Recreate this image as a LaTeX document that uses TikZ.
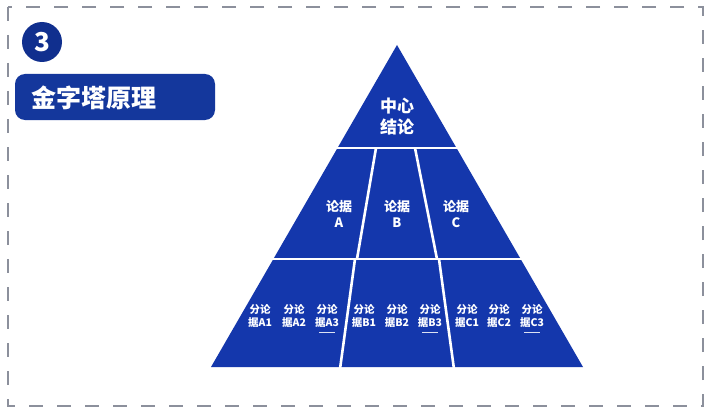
\documentclass[tikz,border=0pt]{standalone}
\usepackage{fontspec}
\newfontfamily\cjk{Noto Sans CJK SC}
\setmainfont{Noto Sans CJK SC}
\definecolor{pyblue}{HTML}{1437AC}
\definecolor{hdblue}{HTML}{14379C}
\definecolor{numblue}{HTML}{102F8E}
\definecolor{dashgray}{HTML}{8C909C}
\begin{document}
\begin{tikzpicture}[x=1pt,y=-1pt,
  sep/.style={white,line width=2.6pt},
  lbl/.style={text=white,align=center,inner sep=0pt,font=\cjk\bfseries},
  small/.style={lbl,font=\cjk\bfseries\fontsize{10.5}{13}\selectfont},
  mid/.style={lbl,font=\cjk\bfseries\fontsize{13}{16}\selectfont},
  ul/.style={white!85!pyblue,line width=1.1pt}]
\useasboundingbox (0,0) rectangle (710,412);
\fill[white] (0,0) rectangle (710,412);
% dashed border
\draw[dashgray,line width=1.8pt,dash pattern=on 14pt off 14pt] (8,7) rectangle (703,406);
% header
\node[circle,fill=numblue,minimum size=40pt,inner sep=0pt,text=white,font=\cjk\bfseries\fontsize{26}{26}\selectfont] (num) at (42,42) {3};
\node[fill=hdblue,rounded corners=10pt,minimum width=200pt,minimum height=46pt,inner sep=0pt] (title) at (115,97) {};
\node[lbl,font=\cjk\bfseries\fontsize{25}{25}\selectfont,anchor=west] (titletext) at (31,98) {金字塔原理};
% pyramid
\fill[pyblue] (397,45) -- (583,367) -- (211,367) -- cycle;
\draw[sep] (300,148) -- (500,148);
\draw[sep] (240,259) -- (560,259);
\draw[sep] (376,148) -- (357,259);
\draw[sep] (415,148) -- (437,259);
\draw[sep] (355,259) -- (340,369);
\draw[sep] (439,259) -- (454,369);
% labels
\node[lbl,font=\cjk\bfseries\fontsize{17}{21}\selectfont] (top) at (397,117) {中心\\结论};
\node[mid] (la) at (339,214) {论据\\A};
\node[mid] (lb) at (397,214) {论据\\B};
\node[mid] (lc) at (456,214) {论据\\C};
\node[small] (a1) at (260,316) {分论\\据A1};
\node[small] (a2) at (294,316) {分论\\据A2};
\node[small] (a3) at (327,316) {分论\\据A3};
\node[small] (b1) at (364,316) {分论\\据B1};
\node[small] (b2) at (397,316) {分论\\据B2};
\node[small] (b3) at (430,316) {分论\\据B3};
\node[small] (c1) at (467,316) {分论\\据C1};
\node[small] (c2) at (499,316) {分论\\据C2};
\node[small] (c3) at (532,316) {分论\\据C3};
\draw[ul] ([yshift=-5pt]a3.south) ++(-8,0) -- ++(16,0);
\draw[ul] ([yshift=-5pt]b3.south) ++(-8,0) -- ++(16,0);
\draw[ul] ([yshift=-5pt]c3.south) ++(-8,0) -- ++(16,0);
\end{tikzpicture}
\end{document}
